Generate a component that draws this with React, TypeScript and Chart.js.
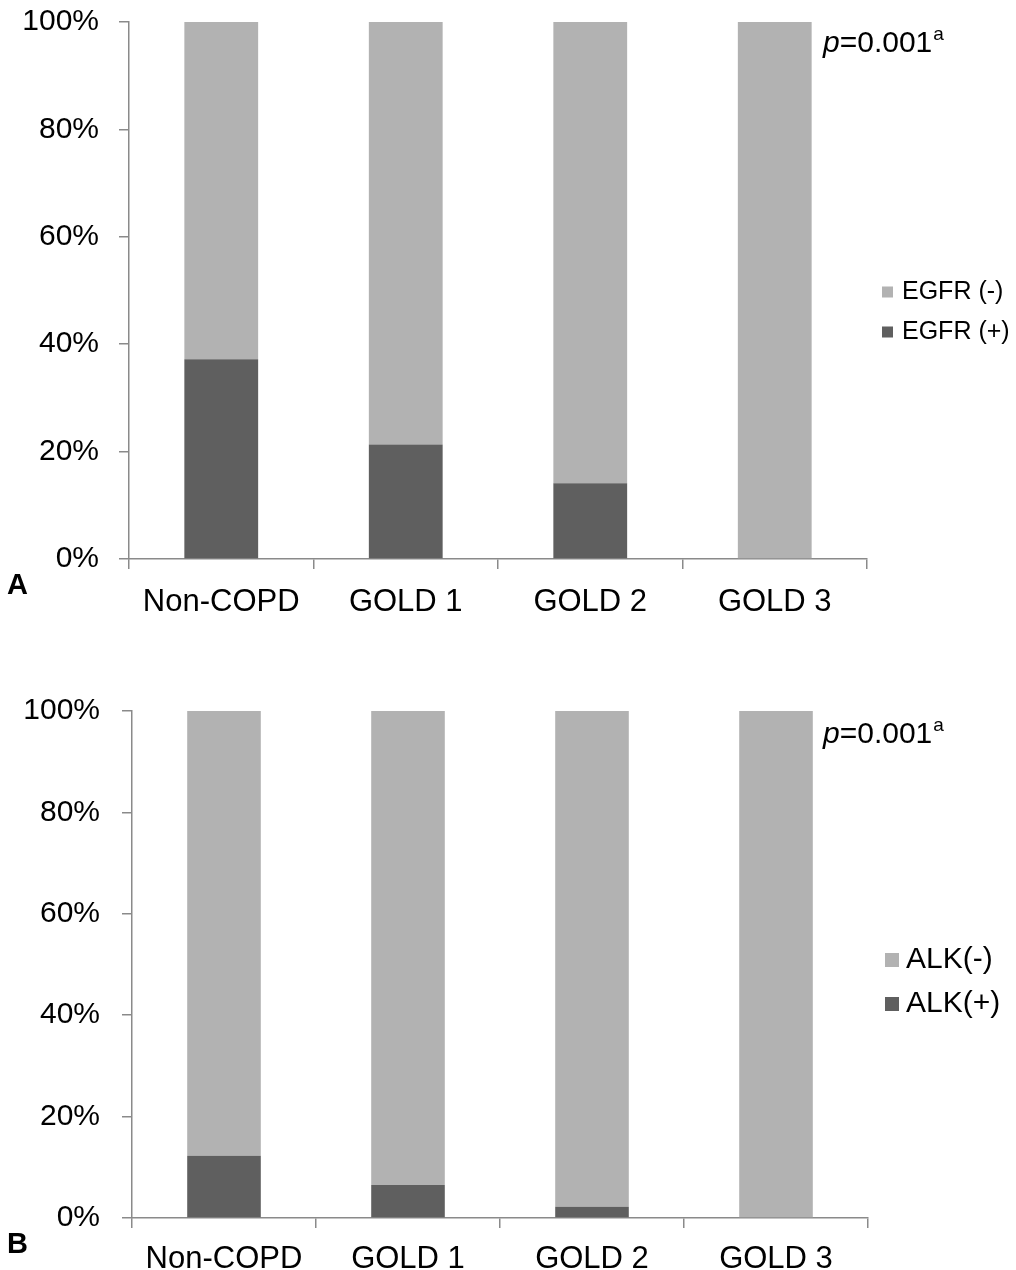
import React, { useEffect, useRef } from "react";
import { Chart, registerables } from "chart.js";

Chart.register(...registerables);

const categories = ["Non-COPD", "GOLD 1", "GOLD 2", "GOLD 3"];
const egfrPositive = [37.2, 21.3, 14.1, 0];
const egfrNegative = [62.8, 78.7, 85.9, 100];
const alkPositive = [12.3, 6.5, 2.2, 0];
const alkNegative = [87.7, 93.5, 97.8, 100];
const egfrLabels = ["EGFR (+)", "EGFR (-)"];
const alkLabels = ["ALK(+)", "ALK(-)"];
const pItalic = "p";
const pRest = "=0.001";
const pSup = "a";

const LIGHT = "#b2b2b2";
const DARK = "#5f5f5f";
const AXIS = "#8a8a8a";
const FONT = '"Liberation Sans", Arial, sans-serif';

type Panel = {
  letter: string;
  labels: string[];
  pos: number[];
  neg: number[];
  top: number;
  bottom: number;
  left: number;
  right: number;
  yPad: number;
  xPad: number;
  legendFont: number;
  legendSquare: number;
  legendX: number;
  legendTextX: number;
  legendYs: number[];
  pX: number;
  pY: number;
  letterY: number;
};

const W = 1016;
const H = 635;

const panels: Panel[] = [
  {
    letter: "A",
    labels: egfrLabels,
    pos: egfrPositive,
    neg: egfrNegative,
    top: 22,
    bottom: 559,
    left: 129,
    right: 867,
    yPad: 20,
    xPad: 15,
    legendFont: 25,
    legendSquare: 11,
    legendX: 882,
    legendTextX: 902,
    legendYs: [292, 332],
    pX: 823,
    pY: 44,
    letterY: 586,
  },
  {
    letter: "B",
    labels: alkLabels,
    pos: alkPositive,
    neg: alkNegative,
    top: 76,
    bottom: 583,
    left: 132,
    right: 868,
    yPad: 22,
    xPad: 13,
    legendFont: 30,
    legendSquare: 14,
    legendX: 885,
    legendTextX: 906,
    legendYs: [960, 1004].map((v) => v - 635),
    pX: 823,
    pY: 735 - 635,
    letterY: 1245 - 635,
  },
];

function PanelChart({ p, offset }: { p: Panel; offset: number }) {
  const ref = useRef<HTMLCanvasElement | null>(null);
  useEffect(() => {
    if (!ref.current) return;
    const overlay = {
      id: "overlay",
      afterDraw(chart: any) {
        const ctx = chart.ctx as CanvasRenderingContext2D;
        ctx.save();
        ctx.fillStyle = "#000";
        ctx.textBaseline = "middle";
        ctx.textAlign = "left";
        // p-value
        ctx.font = `italic 30px ${FONT}`;
        ctx.fillText(pItalic, p.pX, p.pY);
        let x = p.pX + ctx.measureText(pItalic).width;
        ctx.font = `30px ${FONT}`;
        ctx.fillText(pRest, x, p.pY);
        x += ctx.measureText(pRest).width + 1;
        ctx.font = `19px ${FONT}`;
        ctx.fillText(pSup, x, p.pY - 9);
        // panel letter
        ctx.font = `bold 29px ${FONT}`;
        ctx.fillText(p.letter, 7, p.letterY);
        // legend (reverse dataset order)
        const ds = chart.data.datasets;
        const order = ds.map((_: any, i: number) => ds.length - 1 - i);
        order.forEach((di: number, k: number) => {
          const d = ds[di];
          const y = p.legendYs[k];
          ctx.fillStyle = d.backgroundColor;
          const s = p.legendSquare;
          ctx.fillRect(p.legendX, y - s / 2, s, s);
          ctx.fillStyle = "#000";
          ctx.font = `${p.legendFont}px ${FONT}`;
          ctx.fillText(d.label, p.legendTextX, y);
        });
        ctx.restore();
      },
    };
    const chart = new Chart(ref.current, {
      type: "bar",
      data: {
        labels: categories,
        datasets: [
          { label: p.labels[0], data: p.pos, backgroundColor: DARK, borderWidth: 0 },
          { label: p.labels[1], data: p.neg, backgroundColor: LIGHT, borderWidth: 0 },
        ],
      },
      options: {
        responsive: false,
        animation: false,
        devicePixelRatio: 1,
        layout: { padding: { top: p.top, right: W - p.right, left: 0, bottom: 0 } },
        plugins: { legend: { display: false }, tooltip: { enabled: false } },
        datasets: { bar: { categoryPercentage: 1, barPercentage: 0.4 } },
        scales: {
          x: {
            stacked: true,
            grid: { drawOnChartArea: false, drawTicks: true, tickLength: 10, color: AXIS, lineWidth: 1.5, offset: true },
            border: { display: true, color: AXIS, width: 1.5 },
            ticks: { color: "#000", font: { size: 31, family: FONT }, padding: p.xPad, maxRotation: 0 },
            afterFit: (s: any) => {
              s.height = H - p.bottom;
              s.paddingLeft = 0;
              s.paddingRight = 0;
            },
          },
          y: {
            stacked: true,
            min: 0,
            max: 100,
            grid: { drawOnChartArea: false, drawTicks: true, tickLength: 10, color: AXIS, lineWidth: 1.5 },
            border: { display: true, color: AXIS, width: 1.5 },
            ticks: {
              stepSize: 20,
              color: "#000",
              font: { size: 30, family: FONT },
              padding: p.yPad,
              callback: (v: any) => `${v}%`,
            },
            afterFit: (s: any) => {
              s.width = p.left;
              s.paddingTop = 0;
              s.paddingBottom = 0;
            },
          },
        },
      },
      plugins: [overlay],
    } as any);
    return () => chart.destroy();
  }, [p]);
  return (
    <canvas
      ref={ref}
      width={W}
      height={H}
      style={{ position: "absolute", left: 0, top: offset, width: W, height: H, display: "block" }}
    />
  );
}

export default function App() {
  return (
    <div style={{ position: "absolute", left: 0, top: 0, width: W, height: 1270, background: "#fff", overflow: "hidden" }}>
      <PanelChart p={panels[0]} offset={0} />
      <PanelChart p={panels[1]} offset={635} />
    </div>
  );
}
